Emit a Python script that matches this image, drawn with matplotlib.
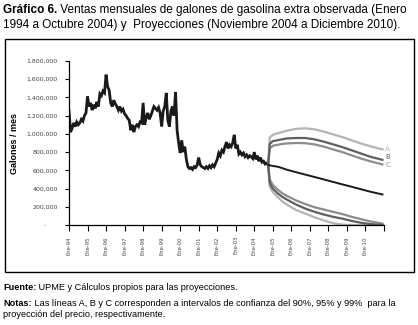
import matplotlib
matplotlib.use("Agg")
import matplotlib.pyplot as plt
from matplotlib.ticker import FuncFormatter
from matplotlib.patches import Rectangle

# Ventas observadas, mensual, enero 1994 a octubre 2004 (galones)
observado = [
    1255000, 1020000, 1060000, 1120000, 1080000, 1130000, 1100000, 1120000, 1160000, 1140000, 1200000, 1230000,  # 1994
    1410000, 1300000, 1340000, 1260000, 1320000, 1280000, 1350000, 1300000, 1440000, 1420000, 1470000, 1450000,  # 1995
    1650000, 1520000, 1480000, 1340000, 1300000, 1370000, 1330000, 1300000, 1260000, 1300000, 1250000, 1270000,  # 1996
    1220000, 1200000, 1170000, 1150000, 1040000, 1100000, 1020000, 1080000, 1100000, 1080000, 1130000, 1120000,  # 1997
    1340000, 1100000, 1180000, 1230000, 1160000, 1200000, 1250000, 1300000, 1280000, 1260000, 1290000, 1230000,  # 1998
    1080000, 1250000, 1300000, 1450000, 1150000, 1080000, 1250000, 1300000, 1200000, 1460000, 1040000, 900000,   # 1999
    790000, 930000, 800000, 860000, 720000, 640000, 620000, 630000, 610000, 640000, 630000, 660000,               # 2000
    740000, 660000, 640000, 630000, 620000, 640000, 620000, 650000, 630000, 660000, 640000, 680000,               # 2001
    720000, 790000, 760000, 820000, 800000, 860000, 910000, 840000, 880000, 860000, 900000, 990000,               # 2002
    840000, 880000, 780000, 800000, 770000, 790000, 750000, 770000, 740000, 760000, 750000, 730000,               # 2003
    800000, 720000, 760000, 700000, 740000, 690000, 700000, 670000, 680000, 660000,                               # 2004
]

# Proyecciones: meses contados desde octubre 2004 (74 = diciembre 2010)
meses_proy = [0, 1, 3, 6, 9, 12, 18, 24, 30, 36, 42, 48, 54, 60, 66, 74]
proy_central = [660000, 655000, 648000, 640000, 625000, 607000, 580000, 553000, 527000, 500000, 473000, 446000, 420000, 393000, 366000, 335000]
a_sup = [660000, 960000, 990000, 1005000, 1020000, 1035000, 1055000, 1062000, 1050000, 1025000, 995000, 965000, 930000, 895000, 865000, 830000]
b_sup = [660000, 890000, 920000, 930000, 940000, 950000, 955000, 955000, 940000, 915000, 885000, 855000, 820000, 785000, 750000, 715000]
c_sup = [660000, 840000, 870000, 880000, 890000, 895000, 900000, 898000, 885000, 860000, 830000, 800000, 765000, 730000, 700000, 665000]
a_inf = [660000, 420000, 360000, 310000, 260000, 225000, 165000, 125000, 85000, 50000, 20000, 5000, 0, 0, 0, 0]
b_inf = [660000, 460000, 400000, 350000, 310000, 280000, 225000, 180000, 145000, 115000, 90000, 70000, 45000, 25000, 10000, 0]
c_inf = [660000, 500000, 440000, 390000, 350000, 320000, 270000, 230000, 195000, 170000, 145000, 120000, 90000, 65000, 40000, 15000]

anios = list(range(1994, 2012))
etiquetas_x = ["Ene-%02d" % (a % 100) for a in range(1994, 2011)] + [""]

gris_a = "#b4b4b4"
gris_b = "#5f5f5f"
gris_c = "#8c8c8c"

plt.rcParams['font.family'] = ['Liberation Sans', 'DejaVu Sans']

W, H = 418, 325
fig = plt.figure(figsize=(W / 100, H / 100), dpi=100)

# recuadro exterior
fig.add_artist(Rectangle((5 / W, 1 - 272 / H), 409 / W, 233 / H, transform=fig.transFigure,
                         fill=False, edgecolor='black', linewidth=1.0))

ax = fig.add_axes([69 / W, 1 - 225 / H, 315 / W, 164 / H])

x_obs = [1994 + i / 12 for i in range(len(observado))]
inicio_proy = x_obs[-1]
x_proy = [inicio_proy + m / 12 for m in meses_proy]

ax.plot(x_obs, observado, color='#1a1a1a', linewidth=2.0, solid_joinstyle='miter')
ax.plot(x_proy, a_sup, color=gris_a, linewidth=1.6)
ax.plot(x_proy, a_inf, color=gris_a, linewidth=1.6)
ax.plot(x_proy, c_sup, color=gris_c, linewidth=1.6)
ax.plot(x_proy, c_inf, color=gris_c, linewidth=1.6)
ax.plot(x_proy, b_sup, color=gris_b, linewidth=1.6)
ax.plot(x_proy, b_inf, color=gris_b, linewidth=1.6)
ax.plot(x_proy, proy_central, color='#1a1a1a', linewidth=1.4)

# letras al final de las bandas superiores (desplazadas un poco para que no se pisen)
for serie, letra, col, dy in [(a_sup, "A", gris_a, 0.3), (b_sup, "B", gris_b, 1.9), (c_sup, "C", gris_c, -0.6)]:
    ax.annotate(letra, (x_proy[-1], serie[-1]), xytext=(2, dy), textcoords='offset points',
                fontsize=5, color=col, va='center', ha='left', family='DejaVu Sans')

ax.set_xlim(1994, 2011)
ax.set_ylim(0, 1800000)
ax.set_xticks(anios)
ax.set_xticklabels(etiquetas_x, rotation=90, fontsize=3.8, family='DejaVu Sans', color='#444444')
ax.set_yticks(range(0, 1800001, 200000))
ax.yaxis.set_major_formatter(FuncFormatter(lambda v, p: "-      " if v == 0 else "{:,.0f}".format(v)))
for lab in ax.get_yticklabels():
    lab.set_fontsize(4.5)
    lab.set_family('DejaVu Sans')
    lab.set_color('#444444')
ax.tick_params(axis='x', direction='out', length=4, width=0.8, pad=4)
ax.tick_params(axis='y', direction='out', length=3, width=0.8, pad=5)
ax.spines['top'].set_visible(False)
ax.spines['right'].set_visible(False)
ax.spines['left'].set_linewidth(0.9)
ax.spines['bottom'].set_linewidth(0.9)

ax.set_ylabel("Galones / mes", fontsize=6.5, fontweight='bold')
ax.yaxis.set_label_coords(-50 / 315, 0.5)


def texto_mixto(x, y, negrita, normal, size):
    t1 = fig.text(x / W, 1 - y / H, negrita, fontsize=size, fontweight='bold', va='baseline')
    fig.canvas.draw()
    bb = t1.get_window_extent()
    fig.text(bb.x1 / fig.bbox.width, 1 - y / H, " " + normal, fontsize=size, va='baseline')


texto_mixto(3, 13, "Gráfico 6.", "Ventas mensuales de galones de gasolina extra observada (Enero", 8.5)
fig.text(3 / W, 1 - 28 / H, "1994 a Octubre 2004) y  Proyecciones (Noviembre 2004 a Diciembre 2010).",
         fontsize=8.5, va='baseline')

texto_mixto(3, 290, "Fuente:", "UPME y Cálculos propios para las proyecciones.", 6.6)
texto_mixto(3, 306, "Notas:", "Las líneas A, B y C corresponden a intervalos de confianza del 90%, 95% y 99%  para la", 6.6)
fig.text(3 / W, 1 - 317 / H, "proyección del precio, respectivamente.", fontsize=6.6, va='baseline')

fig.savefig("out.png", dpi=100)
